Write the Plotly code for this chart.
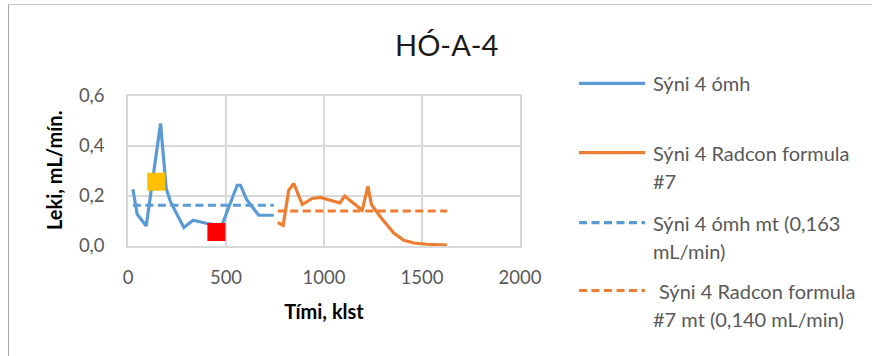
import plotly.graph_objects as go

# Sýni 4 ómh (measured leak rate)
omh_t = [25, 47, 93, 166, 195, 217, 285, 332, 404, 479, 557, 574, 605, 667, 744]
omh_v = [0.227, 0.127, 0.080, 0.490, 0.230, 0.176, 0.074, 0.103, 0.090, 0.083,
         0.243, 0.243, 0.186, 0.123, 0.123]

# Sýni 4 Radcon formula #7
rad_t = [764, 792, 820, 846, 889, 940, 982, 1081, 1105, 1195, 1224, 1242, 1288,
         1356, 1407, 1458, 1526, 1628]
rad_v = [0.094, 0.083, 0.223, 0.250, 0.166, 0.190, 0.194, 0.172, 0.200, 0.143,
         0.239, 0.166, 0.116, 0.052, 0.023, 0.012, 0.007, 0.004]

# Averages (mL/min)
omh_mean = 0.163
rad_mean = 0.140

# Highlighted points
yellow_pt = (144, 0.257)
red_pt = (451, 0.056)

legend_labels = [
    ["Sýni 4 ómh"],
    ["Sýni 4 Radcon formula", "#7"],
    ["Sýni 4 ómh mt (0,163", "mL/min)"],
    ["Sýni 4 Radcon formula", "#7 mt (0,140 mL/min)"],
]

BLUE = "#5B9BD5"
ORANGE = "#ED7D31"
FONT = "Lato"
GRID = "#d9d9d9"
LW = 3.2
DASH = "8px,4.5px"

W, H = 872, 356
L, R, T, B = 128, 352, 96, 110
PW, PH = W - L - R, H - T - B


def px_x(px):
    return (px - L) / PW


def px_y(py):
    return (H - B - py) / PH


fig = go.Figure()
fig.add_trace(go.Scatter(x=omh_t, y=omh_v, mode="lines",
                         line=dict(color=BLUE, width=LW)))
fig.add_trace(go.Scatter(x=rad_t, y=rad_v, mode="lines",
                         line=dict(color=ORANGE, width=LW)))
fig.add_trace(go.Scatter(x=[omh_t[0], omh_t[-1]], y=[omh_mean, omh_mean], mode="lines",
                         line=dict(color=BLUE, width=LW, dash=DASH)))
fig.add_trace(go.Scatter(x=[rad_t[0], rad_t[-1]], y=[rad_mean, rad_mean], mode="lines",
                         line=dict(color=ORANGE, width=LW, dash=DASH)))
fig.add_trace(go.Scatter(x=[yellow_pt[0]], y=[yellow_pt[1]], mode="markers",
                         marker=dict(symbol="square", size=18, color="#FFC000",
                                     line=dict(width=0))))
fig.add_trace(go.Scatter(x=[red_pt[0]], y=[red_pt[1]], mode="markers",
                         marker=dict(symbol="square", size=18, color="#FF0000",
                                     line=dict(width=0))))

shapes = []
annotations = []

# legend: sample lines and wrapped labels
styles = [(BLUE, "solid"), (ORANGE, "solid"), (BLUE, DASH), (ORANGE, DASH)]
sample_y = [83.3, 152.7, 222.7, 290.5]
line_step = 28.5
for i, (lines, (col, dash)) in enumerate(zip(legend_labels, styles)):
    shapes.append(dict(type="line", xref="paper", yref="paper",
                       x0=px_x(579), x1=px_x(645), y0=px_y(sample_y[i]), y1=px_y(sample_y[i]),
                       line=dict(color=col, width=LW, dash=dash)))
    for j, txt in enumerate(lines):
        annotations.append(dict(text=txt, xref="paper", yref="paper",
                                x=px_x(651), y=px_y(sample_y[i] + j * line_step),
                                xanchor="left", yanchor="middle", showarrow=False,
                                xshift=6 if (i == 3 and j == 0) else 0,
                                font=dict(family=FONT, size=20, color="#595959")))

# chart title
annotations.append(dict(text="HÓ-A-4", xref="paper", yref="paper",
                        x=px_x(446), y=px_y(45), xanchor="center", yanchor="middle",
                        showarrow=False, font=dict(family=FONT, size=29, color="#1a1a1a")))

# y-axis title
annotations.append(dict(text="<b>Leki, mL/mín.</b>", xref="paper", yref="paper",
                        x=px_x(68), y=px_y(171), xanchor="right", yanchor="middle",
                        textangle=-90, showarrow=False,
                        font=dict(family=FONT, size=20, color="#000000")))

# chart-area frame edges
shapes.append(dict(type="line", xref="paper", yref="paper",
                   x0=px_x(8.5), x1=px_x(8.5), y0=px_y(4.5), y1=px_y(H + 5),
                   line=dict(color="#a6a6a6", width=1)))
shapes.append(dict(type="line", xref="paper", yref="paper",
                   x0=px_x(8.5), x1=px_x(W + 5), y0=px_y(4.5), y1=px_y(4.5),
                   line=dict(color="#c8c8c8", width=1)))

fig.update_layout(
    width=W, height=H,
    margin=dict(l=L, r=R, t=T, b=B, pad=0),
    paper_bgcolor="white", plot_bgcolor="white",
    showlegend=False,
    separators=", ",
    shapes=shapes,
    annotations=annotations,
    font=dict(family=FONT),
)

fig.update_xaxes(
    range=[0, 2000], dtick=500, tick0=0,
    showgrid=True, gridcolor=GRID, gridwidth=1.5,
    showline=True, linecolor=GRID, linewidth=1.5, mirror=True,
    zeroline=False, ticks="", ticklabelstandoff=14,
    tickfont=dict(family=FONT, size=18.5, color="#595959"),
    title=dict(text="<b>Tími, klst</b>", standoff=18,
               font=dict(family=FONT, size=20, color="#000000")),
)
fig.update_yaxes(
    range=[0, 0.6], dtick=0.2, tick0=0, tickformat=".1f",
    showgrid=True, gridcolor=GRID, gridwidth=1.5,
    showline=True, linecolor=GRID, linewidth=1.5, mirror=True,
    zeroline=False, ticks="", ticklabelstandoff=18,
    tickfont=dict(family=FONT, size=18.5, color="#595959"),
)

fig.write_html("out.html")
